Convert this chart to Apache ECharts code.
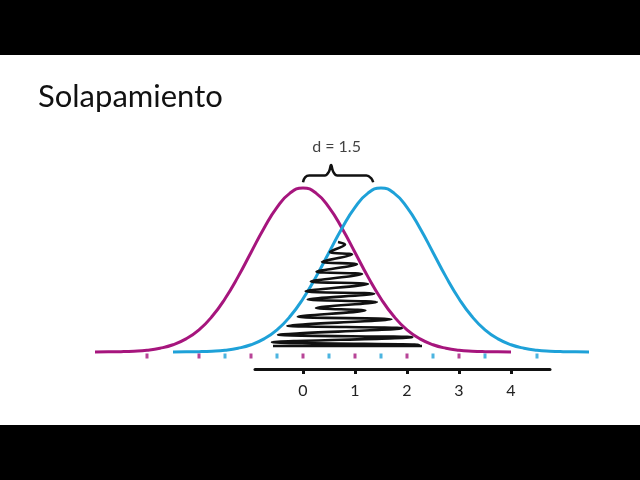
<!DOCTYPE html>
<html>
<head>
<meta charset="utf-8">
<script src="https://cdn.jsdelivr.net/npm/echarts@6/dist/echarts.min.js"></script>
<style>html,body{margin:0;padding:0;background:#fff;}#c{width:640px;height:480px;}</style>
</head>
<body>
<div id="c"></div>
<script>
// ---- data ----
var titleText = 'Solapamiento';
var diffLabel = 'd = 1.5';
var axisTickValues = [0, 1, 2, 3, 4];
var magentaX = [-4,-3.75,-3.5,-3.25,-3,-2.75,-2.5,-2.25,-2,-1.75,-1.5,-1.25,-1,-0.75,-0.5,-0.25,0,0.25,0.5,0.75,1,1.25,1.5,1.75,2,2.25,2.5,2.75,3,3.25,3.5,3.75,4];
var magentaY = [0,0.001,0.002,0.005,0.011,0.023,0.044,0.080,0.135,0.216,0.325,0.458,0.607,0.755,0.882,0.969,1,0.969,0.882,0.755,0.607,0.458,0.325,0.216,0.135,0.080,0.044,0.023,0.011,0.005,0.002,0.001,0];
var blueX = [-2.5,-2.25,-2,-1.75,-1.5,-1.25,-1,-0.75,-0.5,-0.25,0,0.25,0.5,0.75,1,1.25,1.5,1.75,2,2.25,2.5,2.75,3,3.25,3.5,3.75,4,4.25,4.5,4.75,5,5.25,5.5];
var blueY = [0,0.001,0.002,0.005,0.011,0.023,0.044,0.080,0.135,0.216,0.325,0.458,0.607,0.755,0.882,0.969,1,0.969,0.882,0.755,0.607,0.458,0.325,0.216,0.135,0.080,0.044,0.023,0.011,0.005,0.002,0.001,0];
var magentaTicks = [-3,-2,-1,0,1,2,3];
var blueTicks = [-1.5,-0.5,0.5,1.5,2.5,3.5,4.5];
// scribble levels (height, left x, right x), top to bottom
var scribbleH = [0.671,0.610,0.550,0.490,0.430,0.370,0.320,0.268,0.215,0.160,0.105,0.060];
var scribbleL = [0.673,0.519,0.365,0.260,0.150,0.050,0.090,0.250,-0.100,-0.300,-0.480,-0.596];
var scribbleR = [0.808,0.942,1.038,1.135,1.250,1.370,1.420,1.200,1.700,1.900,2.100,2.230];
var scribbleBottom = [[-0.577, 0.037], [2.288, 0.037]];
var braceX = [0,0.04,0.12,0.42,0.5,0.54,0.58,0.66,1.22,1.31,1.35];
var braceY = [1.035,1.065,1.076,1.076,1.10,1.14,1.10,1.076,1.076,1.06,1.035];
var labelPos = [0.645, 1.25];

var magenta = '#A6157D';
var blue = '#1EA1D8';

function pairs(xs, ys){ return xs.map(function(x,i){ return [x, ys[i]]; }); }
var scribble = [];
for (var i = 0; i < scribbleH.length; i++) {
  scribble.push([scribbleL[i], scribbleH[i]]);
  scribble.push([scribbleR[i], scribbleH[i] - 0.015]);
}
scribble.push(scribbleBottom[0]);
scribble.push(scribbleBottom[1]);

var chart = echarts.init(document.getElementById('c'), null, {renderer:'canvas'});
chart.setOption({
  backgroundColor: '#ffffff',
  animation: false,
  title: {
    text: titleText, left: 33, top: 76,
    textStyle: {fontFamily: 'Lato', fontSize: 31, fontWeight: 'normal', color: '#111'}
  },
  graphic: [
    {type:'rect', shape:{x:0,y:0,width:640,height:55}, style:{fill:'#000'}, z:-10},
    {type:'rect', shape:{x:0,y:425,width:640,height:55}, style:{fill:'#000'}, z:-10}
  ],
  grid: [
    {left: 69, right: 25, top: 188, bottom: 128},
    {left: 255, right: 90, top: 368, height: 1}
  ],
  xAxis: [
    {type: 'value', gridIndex: 0, min: -4.5, max: 6, show: false, splitLine: {show: false}},
    {type: 'value', gridIndex: 1, min: -0.923, max: 4.75, position: 'bottom',
     axisLine: {show: true, lineStyle: {color: '#111', width: 3}},
     axisTick: {show: true, customValues: axisTickValues, length: 5, lineStyle: {color: '#111', width: 3}},
     axisLabel: {show: true, customValues: axisTickValues, margin: 14, fontFamily: 'Lato', fontSize: 16, color: '#222'},
     splitLine: {show: false}}
  ],
  yAxis: [
    {type: 'value', gridIndex: 0, min: 0, max: 1, show: false, splitLine:{show:false}},
    {type: 'value', gridIndex: 1, min: 0, max: 1, show: false, splitLine:{show:false}}
  ],
  series: [
    {type:'line', data: pairs(magentaX, magentaY), smooth: true, showSymbol:false, clip:false,
     lineStyle:{color: magenta, width: 3}, z: 2},
    {type:'line', data: pairs(blueX, blueY), smooth: true, showSymbol:false, clip:false,
     lineStyle:{color: blue, width: 3}, z: 3},
    {type:'line', data: scribble, smooth: 0.3, showSymbol:false, clip:false,
     lineStyle:{color: '#111', width: 2.6}, z: 4},
    {type:'scatter', data: magentaTicks.map(function(v){return [v,0];}), symbol:'rect', symbolSize:[3,5], symbolOffset:[0,4], clip:false,
     itemStyle:{color: magenta}, z: 5},
    {type:'scatter', data: blueTicks.map(function(v){return [v,0];}), symbol:'rect', symbolSize:[3,5], symbolOffset:[0,4], clip:false,
     itemStyle:{color: blue}, z: 5},
    {type:'line', data: pairs(braceX, braceY), smooth: 0.4, showSymbol:false, clip:false,
     lineStyle:{color:'#111', width: 2.5}, z: 4},
    {type:'scatter', data: [labelPos], symbolSize: 0, clip:false,
     label:{show:true, position:'inside', formatter: diffLabel, fontFamily:'Lato', fontSize:16, color:'#111'}, z: 5}
  ]
});
</script>
</body>
</html>
